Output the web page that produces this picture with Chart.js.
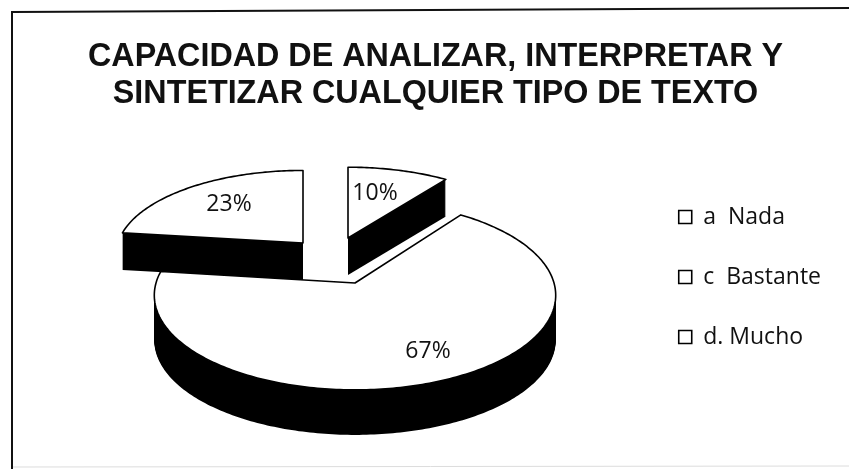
<!DOCTYPE html>
<html><head><meta charset="utf-8">
<style>html,body{margin:0;padding:0;background:#fff;overflow:hidden}#w{width:871px;height:554px;position:relative}canvas{filter:blur(0.5px)}</style>
<script src="https://cdn.jsdelivr.net/npm/chart.js@4/dist/chart.umd.min.js"></script>
</head><body><div id="w"><canvas id="c"></canvas></div>
<script>
const titleLines = ["CAPACIDAD DE ANALIZAR, INTERPRETAR Y","SINTETIZAR CUALQUIER TIPO DE TEXTO"];
const categories = ["a  Nada","c  Bastante","d. Mucho"];
const percentages = [10,67,23];

// Perspective layout of the exploded slices (in data order)
const PERSPECTIVE = 0.13;
const sliceLayout = [
  {x:348,y:238,rx:184,ry:80,depth:37,lx:375,ly:193},
  {x:355,y:283,rx:199,ry:93,depth:45,lx:428,ly:351},
  {x:303,y:243,rx:185,ry:82,depth:37,lx:229,ly:204}
];
const drawOrder = [2,0,1];

function proj(s,a){
  const X=Math.cos(a), Y=-Math.sin(a), w=1/(1+PERSPECTIVE*Y);
  return [s.x+s.rx*X*w, s.y-s.ry*Y*w];
}
function slicePath(ctx,s,arc,dy){
  ctx.beginPath();
  ctx.moveTo(s.x,s.y+dy);
  const n=Math.ceil((arc.endAngle-arc.startAngle)*60);
  for(let i=0;i<=n;i++){
    const p=proj(s,arc.startAngle+(arc.endAngle-arc.startAngle)*i/n);
    ctx.lineTo(p[0],p[1]+dy);
  }
  ctx.closePath();
}
const pie3d={
  id:'pie3d',
  beforeDatasetDraw(chart,args){
    const ctx=chart.ctx, arcs=chart.getDatasetMeta(args.index).data;
    ctx.save();
    ctx.lineJoin='round';
    drawOrder.forEach(i=>{
      const s=sliceLayout[i], arc=arcs[i];
      ctx.fillStyle='#000';
      ctx.strokeStyle='#000';
      ctx.lineWidth=1;
      for(let d=s.depth;d>0;d--){slicePath(ctx,s,arc,d);ctx.fill();}
      slicePath(ctx,s,arc,0);
      ctx.fillStyle='#fff';ctx.fill();
      ctx.lineWidth=1.6;ctx.stroke();
    });
    ctx.fillStyle='#111';
    ctx.font='23px "Open Sans"';
    ctx.textAlign='center';ctx.textBaseline='middle';
    drawOrder.forEach(i=>{
      const s=sliceLayout[i];
      ctx.fillText(percentages[i]+'%',s.lx,s.ly);
    });
    ctx.restore();
    return false;
  },
  beforeDraw(chart){
    const ctx=chart.ctx;
    ctx.save();ctx.fillStyle='#fff';ctx.fillRect(0,0,871,554);
    ctx.strokeStyle='#ddd';ctx.lineWidth=1;
    ctx.beginPath();ctx.moveTo(12,467);ctx.lineTo(849,466);ctx.stroke();
    ctx.strokeStyle='#111';ctx.lineWidth=2;
    ctx.beginPath();ctx.moveTo(12,469);ctx.lineTo(12,12);ctx.lineTo(849,8);ctx.stroke();
    ctx.restore();
  }
};
new Chart(document.getElementById('c'),{
  type:'pie',
  data:{labels:categories,datasets:[{data:percentages,backgroundColor:'#fff',borderColor:'#000',borderWidth:1.6}]},
  plugins:[pie3d],
  options:{
    responsive:true,maintainAspectRatio:false,animation:false,
    layout:{padding:{left:40,right:40,top:0,bottom:0}},
    plugins:{
      tooltip:{enabled:false},
      title:{display:true,text:titleLines,color:'#111',
        font:{family:'"Liberation Sans"',size:32.3,weight:'bold',lineHeight:1.156},
        padding:{top:38,bottom:20}},
      legend:{position:'right',
        labels:{boxWidth:13,boxHeight:13,padding:37,color:'#111',font:{family:'"Open Sans"',size:23}}}
    }
  }
});
</script></body></html>
